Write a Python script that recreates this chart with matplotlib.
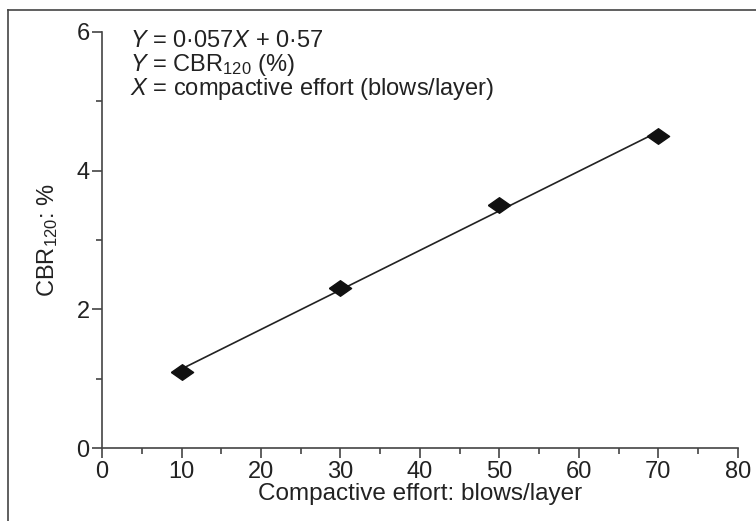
import matplotlib
matplotlib.use('Agg')
import matplotlib.pyplot as plt
import numpy as np
from matplotlib.ticker import MultipleLocator
from matplotlib.lines import Line2D

plt.rcParams['font.family'] = ['Liberation Sans', 'DejaVu Sans']
plt.rcParams['mathtext.fontset'] = 'custom'
plt.rcParams['mathtext.rm'] = 'Liberation Sans'
plt.rcParams['mathtext.it'] = 'Liberation Sans:italic'

# measured points (blows/layer vs CBR120 %)
blows = [10, 30, 50, 70]
cbr = [1.1, 2.3, 3.5, 4.5]

# regression from the chart text
slope = 0.057
intercept = 0.57

x_ticks = [0, 10, 20, 30, 40, 50, 60, 70, 80]
y_ticks = [0, 2, 4, 6]

fs = 17

# flat diamond like the scan
diamond = [(-1, 0), (0, 0.7), (1, 0), (0, -0.7), (-1, 0)]

fig = plt.figure(figsize=(7.56, 5.21), dpi=100)
ax = fig.add_axes([0.135, 0.140, 0.841, 0.799])

fit_x = np.array([blows[0], blows[-1]])
ax.plot(fit_x, slope * fit_x + intercept, color='#222222', lw=1.2, zorder=2)
ax.plot(blows, cbr, ls='none', marker=diamond, ms=16, color='#111111', zorder=3)

ax.set_xlim(0, 80)
ax.set_ylim(0, 6)
ax.set_xticks(x_ticks)
ax.set_yticks(y_ticks)
ax.xaxis.set_minor_locator(MultipleLocator(5))
ax.yaxis.set_minor_locator(MultipleLocator(1))
ax.spines['top'].set_visible(False)
ax.spines['right'].set_visible(False)
for s in ['left', 'bottom']:
    ax.spines[s].set_color('#444444')
    ax.spines[s].set_linewidth(1.2)
ax.tick_params(which='major', length=7, width=1.2, color='#444444', labelsize=fs, labelcolor='#222222', pad=2)
ax.tick_params(which='minor', length=4, width=1.2, color='#444444')

ax.set_xlabel('Compactive effort: blows/layer', fontsize=fs + 0.5, color='#222222', labelpad=0)
ax.set_ylabel('CBR$_{120}$: %', fontsize=fs, color='#222222', labelpad=12)

txt = ['$Y$ = 0·057$X$ + 0·57',
       '$Y$ = CBR$_{120}$ (%)',
       '$X$ = compactive effort (blows/layer)']
for i, t in enumerate(txt):
    ax.text(3.5, 5.86 - i * 0.34, t, fontsize=fs, color='#222222', va='center', ha='left')

# frame lines of the original scan
fig.add_artist(Line2D([8 / 756, 8 / 756], [0, 1 - 10 / 521], color='#444444', lw=1.2))
fig.add_artist(Line2D([8 / 756, 1], [1 - 10 / 521, 1 - 10 / 521], color='#444444', lw=1.2))

fig.savefig('out.png', dpi=100)
